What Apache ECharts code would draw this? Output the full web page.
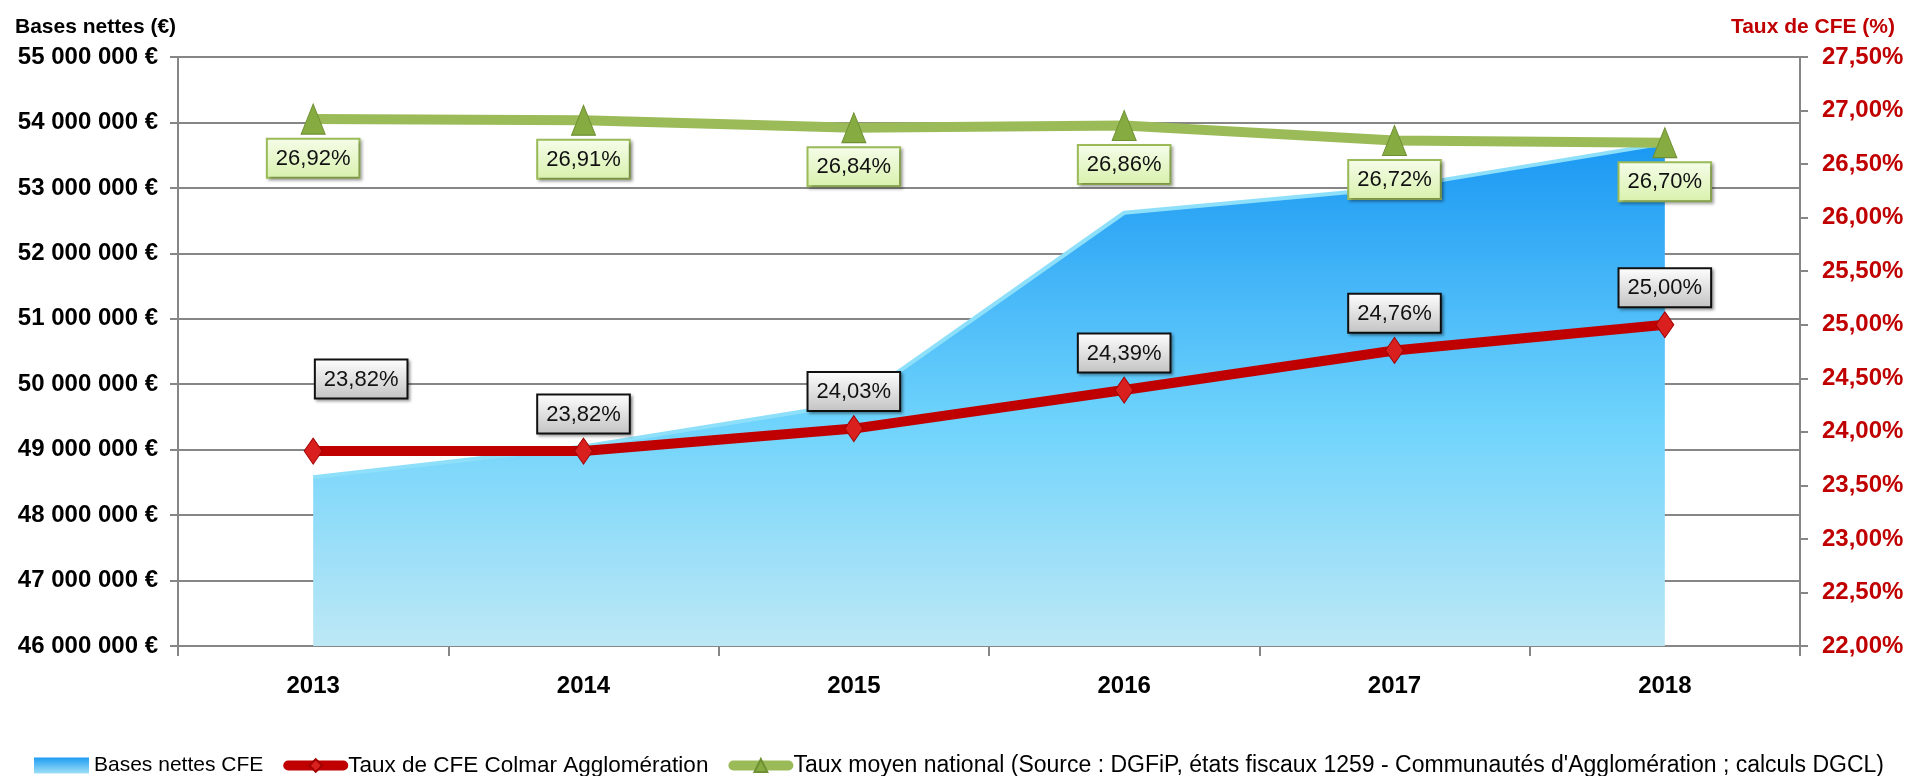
<!DOCTYPE html>
<html>
<head>
    <meta charset="utf-8">
    <title>Bases nettes et taux de CFE</title>
    <script src="https://cdn.jsdelivr.net/npm/echarts@6/dist/echarts.min.js"></script>
    <style>
        html, body { margin: 0; padding: 0; background: #fff; }
    </style>
</head>
<body>
<div id="chart" style="width: 1907px; height: 776px;"></div>

<script>
    // données
    var years = ['2013', '2014', '2015', '2016', '2017', '2018'];
    var basesNettes = [48580000, 49050000, 49710000, 52620000, 53000000, 53680000];
    var tauxColmar = [23.82, 23.82, 24.03, 24.39, 24.76, 25.00];
    var tauxNational = [26.92, 26.91, 26.84, 26.86, 26.72, 26.70];

    var seriesNames = ['Bases nettes CFE', 'Taux de CFE Colmar Agglomération',
        "Taux moyen national (Source : DGFiP, états fiscaux 1259 - Communautés d'Agglomération ; calculs DGCL)"];

    var font = 'Liberation Sans';

    function euros(v) {
        return String(v).replace(/\B(?=(\d{3})+(?!\d))/g, ' ') + ' €';
    }
    function pct(v) {
        return Number(v).toFixed(2).replace('.', ',') + '%';
    }
    function vgrad(c1, c2) {
        return new echarts.graphic.LinearGradient(0, 0, 0, 1, [
            {offset: 0, color: c1}, {offset: 1, color: c2}
        ]);
    }

    var chart = echarts.init(document.getElementById('chart'));

    // label du taux Colmar 2013 décalé comme dans l'original
    var colmarData = tauxColmar.map(function (v, i) {
        if (i === 0) {
            return {value: v, label: {offset: [48, -35]}};
        }
        return v;
    });

    var option = {
        animation: false,
        textStyle: {fontFamily: font},
        title: [
            {
                text: 'Bases nettes (€)', left: 10, top: 12,
                textStyle: {fontSize: 21, fontWeight: 'bold', color: '#000', fontFamily: font}
            },
            {
                text: 'Taux de CFE (%)', right: 7, top: 12,
                textStyle: {fontSize: 21, fontWeight: 'bold', color: '#C00000', fontFamily: font}
            }
        ],
        legend: {
            left: 29,
            right: 0,
            top: 749,
            itemWidth: 55,
            itemHeight: 16,
            itemGap: 20,
            formatter: function (name) {
                var i = seriesNames.indexOf(name);
                return '{s' + i + '|' + name + '}';
            },
            textStyle: {
                fontSize: 21, color: '#000', fontFamily: font,
                rich: {
                    s0: {fontSize: 21, fontFamily: font, color: '#000'},
                    s1: {fontSize: 22.5, fontFamily: font, color: '#000'},
                    s2: {fontSize: 23, fontFamily: font, color: '#000'}
                }
            },
            data: [
                {name: seriesNames[0], icon: 'rect'},
                {name: seriesNames[1], lineStyle: {width: 10, cap: 'round', color: '#C00000'}},
                {name: seriesNames[2], lineStyle: {width: 10, cap: 'round', color: '#9BBB59'}}
            ]
        },
        grid: {left: 178, right: 107, top: 57, bottom: 130},
        xAxis: {
            type: 'category',
            data: years,
            boundaryGap: true,
            axisLine: {lineStyle: {color: '#868686', width: 2}},
            axisTick: {show: true, length: 10, lineStyle: {color: '#868686', width: 2}},
            axisLabel: {fontSize: 24, fontWeight: 'bold', color: '#000', margin: 28, fontFamily: font}
        },
        yAxis: [
            {
                type: 'value',
                min: 46000000,
                max: 55000000,
                interval: 1000000,
                axisLine: {show: true, lineStyle: {color: '#868686', width: 2}},
                axisTick: {show: true, length: 8, lineStyle: {color: '#868686', width: 2}},
                splitLine: {lineStyle: {color: '#868686', width: 2}},
                axisLabel: {
                    fontSize: 24, fontWeight: 'bold', color: '#000', margin: 20, fontFamily: font,
                    formatter: euros
                }
            },
            {
                type: 'value',
                min: 22,
                max: 27.5,
                interval: 0.5,
                position: 'right',
                axisLine: {show: true, lineStyle: {color: '#868686', width: 2}},
                axisTick: {show: true, length: 8, lineStyle: {color: '#868686', width: 2}},
                splitLine: {show: false},
                axisLabel: {
                    fontSize: 24, fontWeight: 'bold', color: '#C00000', margin: 22, fontFamily: font,
                    formatter: pct
                }
            }
        ],
        series: [
            {
                name: seriesNames[0],
                type: 'line',
                yAxisIndex: 0,
                data: basesNettes,
                symbol: 'none',
                z: 1,
                itemStyle: {color: vgrad('#1E9CF2', '#9FE0F8')},
                lineStyle: {color: '#8EE0FA', width: 4},
                areaStyle: {
                    color: new echarts.graphic.LinearGradient(0, 0, 0, 1, [
                        {offset: 0, color: '#1A98F3'},
                        {offset: 0.55, color: '#6ED3FC'},
                        {offset: 1, color: '#BDE8F5'}
                    ]),
                    opacity: 1
                }
            },
            {
                name: seriesNames[1],
                type: 'line',
                yAxisIndex: 1,
                data: colmarData,
                z: 3,
                symbol: 'diamond',
                symbolSize: [18, 26],
                itemStyle: {color: '#DA1F1F', borderColor: '#A00000', borderWidth: 1},
                lineStyle: {color: '#C00000', width: 10},
                label: {
                    show: true,
                    position: 'top',
                    distance: 5,
                    formatter: function (p) { return pct(p.value); },
                    fontSize: 22,
                    color: '#111',
                    fontFamily: font,
                    padding: [8, 8, 7, 8],
                    backgroundColor: vgrad('#FFFFFF', '#C2C2C2'),
                    borderColor: '#111',
                    borderWidth: 2,
                    shadowColor: 'rgba(0,0,0,0.35)',
                    shadowBlur: 3,
                    shadowOffsetX: 2,
                    shadowOffsetY: 2
                }
            },
            {
                name: seriesNames[2],
                type: 'line',
                yAxisIndex: 1,
                data: tauxNational,
                z: 3,
                symbol: 'triangle',
                symbolSize: [24, 30],
                itemStyle: {color: '#86AC41', borderColor: '#6E8F33', borderWidth: 1},
                lineStyle: {color: '#9BBB59', width: 10},
                label: {
                    show: true,
                    position: 'bottom',
                    distance: 5,
                    formatter: function (p) { return pct(p.value); },
                    fontSize: 22,
                    color: '#111',
                    fontFamily: font,
                    padding: [8, 8, 7, 8],
                    backgroundColor: vgrad('#F6FDEA', '#D8F1AC'),
                    borderColor: '#9BBB59',
                    borderWidth: 2,
                    shadowColor: 'rgba(0,0,0,0.3)',
                    shadowBlur: 3,
                    shadowOffsetX: 2,
                    shadowOffsetY: 2
                }
            }
        ]
    };
    chart.setOption(option);
</script>
</body>
</html>
